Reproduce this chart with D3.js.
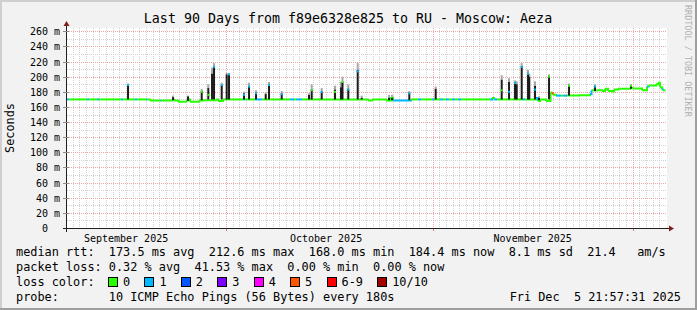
<!DOCTYPE html>
<html><head><meta charset="utf-8">
<script src="https://cdn.jsdelivr.net/npm/d3@7"></script>
<style>
body{margin:0;background:#f2f2f2}
svg{display:block}
text{font-family:"DejaVu Sans Mono",monospace;white-space:pre}
</style>
</head><body>
<svg id="c" width="697" height="310"></svg>
<script>
// ---------- data ----------
const title = "Last 90 Days from f89e6328e825 to RU - Moscow: Aeza";
const startTime = new Date(2025, 8, 6, 21, 57, 31);
const rangeDays = 90;
const yMax = 264.4;
const yTickValues = [0,20,40,60,80,100,120,140,160,180,200,220,240,260];
const yTickLabels = ["0  ","20 m","40 m","60 m","80 m","100 m","120 m","140 m","160 m","180 m","200 m","220 m","240 m","260 m"];
const monthLabels = ["September 2025","October 2025","November 2025"];
const monthLabelDates = [new Date(2025,8,16), new Date(2025,9,16), new Date(2025,10,16)];

// median rtt (ms) step series: day offset since start, value, loss bin
const medDay = [0.00,0.53,3.23,3.53,4.73,5.03,8.33,8.63,10.43,10.73,12.08,12.23,12.68,14.18,14.33,15.98,16.28,16.88,18.08,18.38,18.68,20.03,20.63,22.58,22.88,23.63,24.68,26.63,26.93,27.98,28.43,28.73,29.48,30.75,33.68,34.28,34.58,35.48,36.68,37.20,38.55,44.48,45.38,45.98,48.08,48.53,48.68,48.98,49.13,51.83,52.88,53.33,54.98,55.28,56.18,56.63,57.08,57.53,57.98,58.43,58.88,59.33,63.68,63.98,64.28,64.73,68.63,68.93,70.58,70.88,71.18,72.08,72.75,72.90,73.13,73.58,74.33,74.63,75.23,76.88,78.68,78.90,79.65,80.48,80.93,81.38,81.98,82.28,82.88,84.68,85.05,86.48,87.23,87.45,88.58,88.88,89.18,89.48,89.63];
const medVal = [170,170,170,170,170,170,170,170,170,170,170,170,168.5,168.5,168.5,169.5,168.5,167,168.5,170,167,168.5,169,170,168,170,170,170,170,170,170,170,170,170,170,170,170,170,170,170,170,170,168.5,170,168.5,172,168.5,172,168.5,170,170,170,170,170,170,170,170,170,170,170,170,170,170,172,170,170,170,170,172,168,170,168,179,178,176,175,175,175,175,175.5,177,182,182,181,184,181,180.5,183,184,185,184.5,182,187,188.5,190,192,186,183,182];
const medLoss = [1,0,1,0,1,0,1,0,1,0,1,0,0,1,0,0,0,0,0,0,0,0,0,0,0,0,0,1,0,0,1,1,0,0,1,0,1,0,0,0,0,0,0,0,0,0,0,0,1,0,1,0,1,0,1,0,1,0,1,0,1,0,1,0,1,0,1,0,1,0,0,0,0,5,0,1,0,1,0,0,1,0,0,0,0,0,0,0,0,0,0,0,1,0,0,0,0,1,0];

// smoke spikes: day offset, low, dense top, outer top (ms), median at spike, loss at spike (-1 = no tip)
const smokeDay = [9.38,16.13,18.38,20.43,21.42,21.98,22.28,23.43,24.18,24.53,26.78,27.53,28.58,30.03,30.53,32.43,36.53,36.93,38.43,40.43,41.33,41.55,42.42,43.83,44.43,48.53,48.98,51.57,55.53,65.43,66.53,67.43,67.68,68.43,69.38,69.57,70.43,71.03,72.53,75.53,79.43,84.83];
const smokeLo  = [170,169,168,169,170,170,170,170,170,170,170,170,170,170,170,170,170,170,170,170,170,170,170,170,170,169,169,169,170,170,170,170,170,170,170,170,170,169,170,175,181,184];
const smokeMid = [188,173,174,181,185,204,214,189,203,203,178,187,179,177,189,178,176,183,180,183,186,193,184,209,172,172,172,179,184,196,193,191,190,214,203,200,188,172,201,189,188,189];
const smokeHi  = [191,175,175,184,190,212,218,192,205,205,180,192,182,179,193,181,178,190,185,188,193,200,190,218,175,176,176,181,187,202,198,195,194,218,209,204,194,174,203,191,190,190];
const spikeMed = [189,0,0,180,176,0,213,189,0,203,176,187,178,0,189,177,0,182,180,180,0,193,183,207,0,0,0,178,0,182,180,192,0,213,204,0,183,0,200,188,187,188];
const spikeLoss= [1,-1,-1,0,0,-1,1,1,-1,1,1,1,1,-1,1,1,-1,0,1,0,-1,0,1,1,-1,-1,-1,1,-1,0,1,1,-1,1,1,-1,1,-1,0,0,1,0];

const lossColors = ["#26ff00","#00b8ff","#0059ff","#7e00ff","#ff00fe","#ff5500","#ff0000","#a10000"];
const lossLabels = ["0","1","2","3","4","5","6-9","10/10"];

const legendLine1 = "median rtt:  173.5 ms avg  212.6 ms max  168.0 ms min  184.4 ms now  8.1 ms sd  21.4   am/s";
const legendLine2 = "packet loss: 0.32 % avg  41.53 % max  0.00 % min  0.00 % now";
const legendLine3 = "loss color:";
const probeLabel = "probe:";
const probeText = "10 ICMP Echo Pings (56 Bytes) every 180s";
const dateText = "Fri Dec  5 21:57:31 2025";
const yLabel = "Seconds";
const watermark = "RRDTOOL / TOBI OETIKER";

// ---------- drawing ----------
const W = 697, H = 310;
const X0 = 67, XS = 600, Y0 = 228, YS = 200;
const DAY = 86400000;
const endTime = new Date(+startTime + rangeDays*DAY);
const toDate = d => new Date(+startTime + d*DAY);

const svg = d3.select("#c");
svg.append("rect").attr("width",W).attr("height",H).attr("fill","#f2f2f2");
svg.append("rect").attr("x",0).attr("y",0).attr("width",W).attr("height",2).attr("fill","#cfcfcf");
svg.append("rect").attr("x",0).attr("y",0).attr("width",2).attr("height",H).attr("fill","#cfcfcf");
svg.append("rect").attr("x",W-2).attr("y",0).attr("width",2).attr("height",H).attr("fill","#9e9e9e");
svg.append("rect").attr("x",0).attr("y",H-2).attr("width",W).attr("height",2).attr("fill","#9e9e9e");

const x = d3.scaleTime().domain([startTime,endTime]).range([X0-1.5, X0+XS-1.5]);
const y = d3.scaleLinear().domain([0,yMax]).range([Y0, Y0-YS]);

svg.append("rect").attr("x",X0).attr("y",Y0-YS).attr("width",XS).attr("height",YS).attr("fill","#ffffff");
svg.append("clipPath").attr("id","cp").append("rect").attr("x",X0).attr("y",Y0-YS).attr("width",XS).attr("height",YS);

const grid = svg.append("g").attr("shape-rendering","crispEdges");
d3.range(10, 261, 10).filter(v => v % 20 !== 0).forEach(v => {
  const py = Math.round(y(v))+0.5;
  grid.append("line").attr("x1",X0).attr("x2",X0+XS).attr("y1",py).attr("y2",py)
    .attr("stroke","#d2d2d2").attr("stroke-dasharray","1,1");
});
const monthStarts = d3.timeMonth.range(startTime, endTime);
const isMonthStart = d => monthStarts.some(m => +m === +d);
d3.timeDay.range(startTime,endTime).filter(d => !isMonthStart(d)).forEach(d => {
  const px = Math.round(x(d))+0.5;
  if (px < X0 || px > X0+XS) return;
  grid.append("line").attr("x1",px).attr("x2",px).attr("y1",Y0-YS).attr("y2",Y0)
    .attr("stroke","#d2d2d2").attr("stroke-dasharray","1,1");
});
d3.range(20, 261, 20).forEach(v => {
  const py = Math.round(y(v))+0.5;
  grid.append("line").attr("x1",X0).attr("x2",X0+XS).attr("y1",py).attr("y2",py)
    .attr("stroke","#eda5a5").attr("stroke-dasharray","1,1");
});
monthStarts.forEach(d => {
  const px = Math.round(x(d))+0.5;
  grid.append("line").attr("x1",px).attr("x2",px).attr("y1",Y0-YS).attr("y2",Y0)
    .attr("stroke","#eda5a5").attr("stroke-dasharray","1,1");
  grid.append("line").attr("x1",px).attr("x2",px).attr("y1",Y0).attr("y2",Y0+3).attr("stroke","#e07a7a");
});

const plot = svg.append("g").attr("clip-path","url(#cp)");
const BW = 2;
smokeDay.forEach((d,i) => {
  const cx = x(toDate(d));
  plot.append("rect").attr("x",cx-BW/2).attr("width",BW)
    .attr("y",y(smokeHi[i])).attr("height",y(smokeMid[i])-y(smokeHi[i])).attr("fill","#a8a8a8");
});
medDay.forEach((d,i) => {
  const x1 = x(toDate(d));
  const x2 = x(toDate(i < medDay.length-1 ? medDay[i+1] : rangeDays));
  let p = `M${x1},${y(medVal[i])}H${x2}`;
  if (i < medDay.length-1) p += `V${y(medVal[i+1])}`;
  plot.append("path").attr("d",p).attr("fill","none").attr("stroke",lossColors[medLoss[i]]).attr("stroke-width",2);
});
smokeDay.forEach((d,i) => {
  const cx = x(toDate(d));
  plot.append("rect").attr("x",cx-BW/2).attr("width",BW)
    .attr("y",y(smokeMid[i])).attr("height",y(smokeLo[i])-y(smokeMid[i])).attr("fill","#1c1c1c");
});
smokeDay.forEach((d,i) => {
  if (spikeLoss[i] < 0) return;
  const cx = x(toDate(d));
  plot.append("line").attr("x1",cx-BW/2).attr("x2",cx+BW/2).attr("y1",y(spikeMed[i])).attr("y2",y(spikeMed[i]))
    .attr("stroke",lossColors[spikeLoss[i]]).attr("stroke-width",2);
});

const ax = svg.append("g").attr("shape-rendering","crispEdges");
ax.append("line").attr("x1",X0-4).attr("x2",X0+XS+4).attr("y1",Y0+0.5).attr("y2",Y0+0.5).attr("stroke","#1f1f1f");
ax.append("line").attr("x1",X0-0.5).attr("x2",X0-0.5).attr("y1",Y0+4).attr("y2",Y0-YS-4).attr("stroke","#1f1f1f");
svg.append("path").attr("d",`M${X0+XS+2},${Y0-2.5}L${X0+XS+7},${Y0+0.5}L${X0+XS+2},${Y0+3.5}Z`).attr("fill","#801f1f");
svg.append("path").attr("d",`M${X0-3.5},${Y0-YS-2}L${X0-0.5},${Y0-YS-7}L${X0+2.5},${Y0-YS-2}Z`).attr("fill","#801f1f");
yTickValues.forEach((v,i) => {
  const py = Math.round(y(v))+0.5;
  if (v > 0) ax.append("line").attr("x1",X0-4).attr("x2",X0+2).attr("y1",py).attr("y2",py).attr("stroke","#8c8c8c");
  svg.append("text").attr("x",60).attr("y",py+3.5).attr("text-anchor","end")
    .attr("font-size","10px").attr("fill","#000").text(yTickLabels[i]);
});
monthLabels.forEach((m,i) => {
  svg.append("text").attr("x",x(monthLabelDates[i])).attr("y",242).attr("text-anchor","middle")
    .attr("font-size","10px").text(m);
});

svg.append("text").attr("x",348).attr("y",23).attr("text-anchor","middle").attr("font-size","13.3px").text(title);
svg.append("text").attr("transform","translate(14,128) rotate(-90)").attr("text-anchor","middle").attr("font-size","11.86px").text(yLabel);
svg.append("text").attr("transform","translate(685,5) rotate(90)").attr("font-size","8.45px").attr("fill","#b0b0b0").text(watermark);

const LF = "11.86px", CW = 7.14;
svg.append("text").attr("x",16).attr("y",256).attr("font-size",LF).text(legendLine1);
svg.append("text").attr("x",16).attr("y",271).attr("font-size",LF).text(legendLine2);
svg.append("text").attr("x",16).attr("y",286).attr("font-size",LF).text(legendLine3);
let lx = 108;
lossLabels.forEach((l,i) => {
  svg.append("rect").attr("x",lx+0.5).attr("y",277.5).attr("width",9).attr("height",9)
    .attr("fill",lossColors[i]).attr("stroke","#000").attr("shape-rendering","crispEdges");
  svg.append("text").attr("x",lx+15).attr("y",286).attr("font-size",LF).text(l);
  lx += 15 + l.length*CW + 2*CW;
});
svg.append("text").attr("x",16).attr("y",301).attr("font-size",LF).text(probeLabel);
svg.append("text").attr("x",16+13*CW).attr("y",301).attr("font-size",LF).text(probeText);
svg.append("text").attr("x",681).attr("y",301).attr("text-anchor","end").attr("font-size",LF).text(dateText);
</script>
</body></html>
